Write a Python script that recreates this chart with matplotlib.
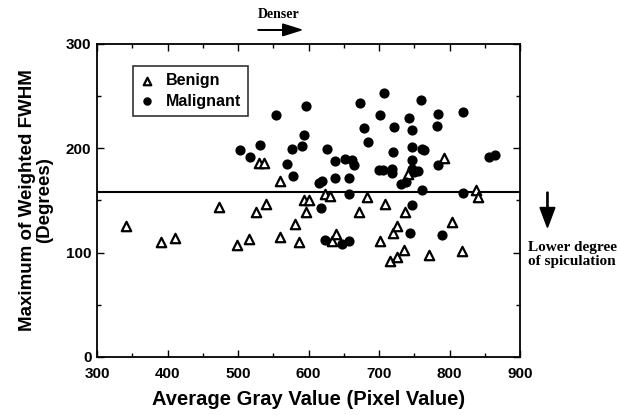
import matplotlib
matplotlib.use("Agg")
import matplotlib.pyplot as plt
from matplotlib.patches import FancyArrow
from matplotlib.ticker import MultipleLocator

# average gray value vs. maximum of weighted FWHM, per lesion
benign_gray = [341, 391, 410, 473, 499, 516, 525, 530, 537, 540, 559, 560, 581, 586,
               593, 600, 596, 624, 631, 633, 639, 671, 683, 702, 709, 715, 720, 726,
               726, 736, 737, 741, 771, 792, 804, 818, 838, 840]
benign_fwhm = [126, 110, 114, 144, 107, 113, 139, 186, 186, 147, 169, 115, 127, 110,
               150, 150, 139, 156, 154, 111, 118, 139, 153, 111, 147, 92, 119, 126,
               96, 103, 139, 175, 98, 191, 129, 102, 160, 153]

malignant_gray = [503, 517, 531, 554, 570, 576, 578, 591, 593, 596, 615, 619, 618, 624,
                  626, 637, 637, 647, 652, 657, 658, 658, 662, 665, 673, 679, 685, 700,
                  701, 705, 707, 718, 719, 720, 721, 731, 739, 742, 744, 747, 747, 747,
                  747, 747, 750, 756, 760, 761, 761, 764, 782, 783, 784, 790, 819, 819,
                  856, 864]
malignant_fwhm = [198, 192, 203, 232, 185, 199, 173, 202, 213, 241, 167, 169, 143, 112,
                  199, 188, 172, 108, 190, 156, 111, 172, 189, 184, 243, 219, 206, 179,
                  232, 179, 253, 180, 176, 196, 220, 166, 168, 229, 119, 218, 201, 189,
                  180, 146, 177, 178, 246, 199, 160, 198, 221, 233, 184, 117, 235, 157,
                  192, 194]

threshold = 158

SANS = "Liberation Sans"
SERIF = "Liberation Serif"


def main():
    fig = plt.figure(figsize=(6.2, 4.15), dpi=100)
    ax = fig.add_axes([0.1565, 0.1398, 0.6822, 0.7542])

    ax.scatter(benign_gray, benign_fwhm, marker="^", s=46, facecolors="white",
               edgecolors="black", linewidths=1.6, label="Benign", zorder=3)
    ax.scatter(malignant_gray, malignant_fwhm, marker="o", s=40, color="black",
               label="Malignant", zorder=3)
    ax.axhline(threshold, color="black", lw=1.5, zorder=2)

    ax.set_xlim(300, 900)
    ax.set_ylim(0, 300)
    ax.xaxis.set_major_locator(MultipleLocator(100))
    ax.xaxis.set_minor_locator(MultipleLocator(50))
    ax.yaxis.set_major_locator(MultipleLocator(100))
    ax.yaxis.set_minor_locator(MultipleLocator(50))
    ax.tick_params(which="both", direction="in", top=True, right=True,
                   width=1, color="black")
    ax.tick_params(which="major", length=5)
    ax.tick_params(which="minor", length=3)
    ax.tick_params(axis="x", which="major", pad=7)
    ax.tick_params(axis="y", which="major", pad=4)
    fig.canvas.draw()
    for lab in ax.get_xticklabels() + ax.get_yticklabels():
        lab.set_fontfamily(SANS)
        lab.set_fontweight("bold")
        lab.set_fontsize(11)
    # lift the "0" so it clears the "300" below it
    ax.get_yticklabels()[0].set_va("bottom")
    for sp in ax.spines.values():
        sp.set_linewidth(1.3)

    ax.set_xlabel("Average Gray Value (Pixel Value)", fontfamily=SANS,
                  fontweight="bold", fontsize=14.5, labelpad=7)
    ax.set_ylabel("Maximum of Weighted FWHM\n(Degrees)", fontfamily=SANS,
                  fontweight="bold", fontsize=13.5, linespacing=1.05, labelpad=9)

    leg = ax.legend(loc="upper left", bbox_to_anchor=(0.085, 0.93), frameon=True,
                    fancybox=False, edgecolor="black", handletextpad=0.7,
                    borderpad=0.45, labelspacing=0.35, handlelength=0.9,
                    borderaxespad=0, markerscale=0.8,
                    prop={"family": SANS, "weight": "bold", "size": 11.5})
    leg.get_frame().set_linewidth(1.2)

    # annotation arrows outside the axes
    fig.text(0.45, 0.965, "Denser", fontfamily=SERIF, fontweight="bold",
             fontsize=10, ha="center", va="center")
    fig.patches.append(FancyArrow(
        0.416, 0.928, 0.07, 0, width=0.001, head_width=0.028, head_length=0.03,
        length_includes_head=True, color="black", transform=fig.transFigure,
        figure=fig))
    fig.patches.append(FancyArrow(
        0.883, 0.537, 0, -0.085, width=0.002, head_width=0.024, head_length=0.048,
        length_includes_head=True, color="black", transform=fig.transFigure,
        figure=fig))
    fig.text(0.852, 0.386, "Lower degree\nof spiculation", fontfamily=SERIF,
             fontweight="bold", fontsize=11, ha="left", va="center",
             linespacing=1.1)

    fig.savefig("out.png", dpi=100)
    plt.close(fig)


if __name__ == "__main__":
    main()
